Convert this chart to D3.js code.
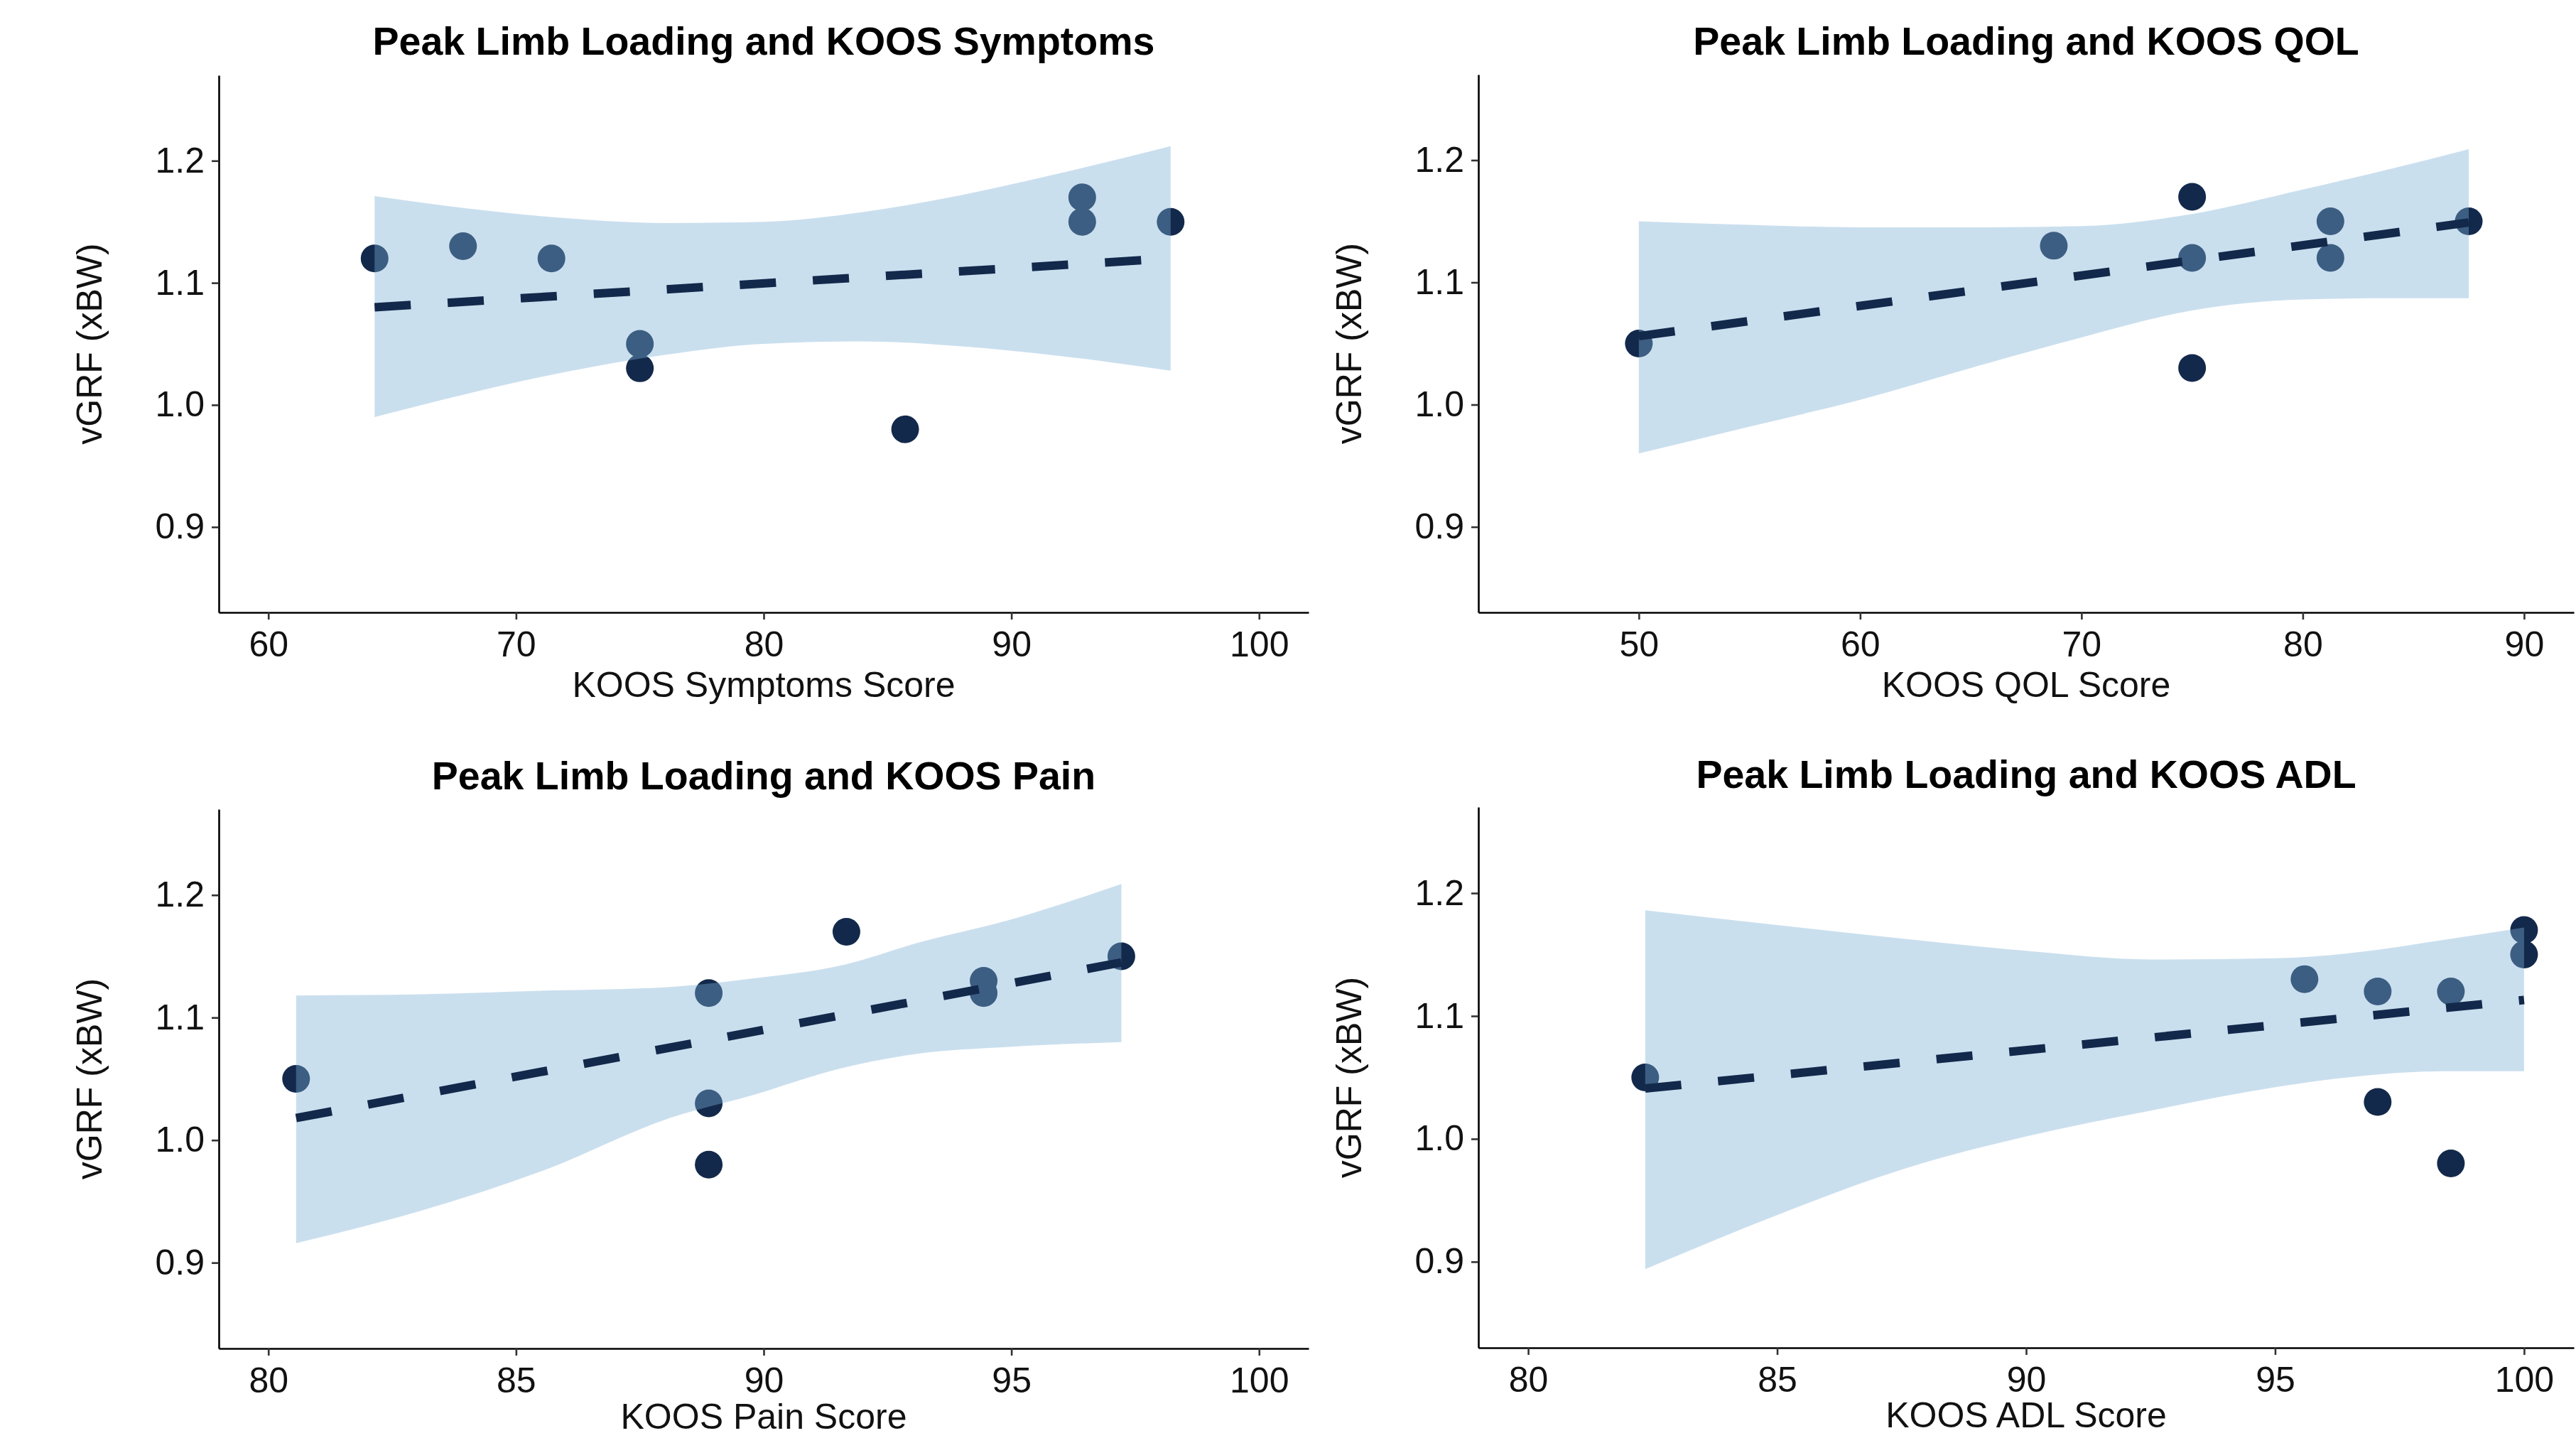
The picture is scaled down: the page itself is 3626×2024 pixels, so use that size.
<!DOCTYPE html>
<html>
<head>
<meta charset="utf-8">
<script src="https://cdn.jsdelivr.net/npm/d3@7"></script>
<style>
  body { margin: 0; background: #fff; }
  svg { display: block; }
  text { font-family: "Liberation Sans", Arial, sans-serif; }
</style>
</head>
<body>
<svg width="3626" height="2024"></svg>
<script>
// shared y axis
var yTicks = [0.9, 1.0, 1.1, 1.2];
var yLimits = [0.83, 1.27];

// KOOS Symptoms
var symptomsScore = [64.29, 67.86, 71.43, 75, 75, 85.71, 92.86, 92.86, 96.43];
var symptomsVgrf  = [1.12, 1.13, 1.12, 1.05, 1.03, 0.98, 1.17, 1.15, 1.15];
var symptomsTicks = [60, 70, 80, 90, 100];
var symptomsBandX     = [64.29, 68, 72, 76, 80, 84, 88, 92, 96.43];
var symptomsBandUpper = [1.171, 1.161, 1.153, 1.149, 1.150, 1.158, 1.172, 1.190, 1.212];
var symptomsBandLower = [0.990, 1.009, 1.027, 1.041, 1.050, 1.052, 1.048, 1.040, 1.028];
var symptomsFitX = [64.29, 96.43];
var symptomsFitY = [1.080, 1.120];

// KOOS QOL
var qolScore = [50, 68.75, 75, 75, 75, 81.25, 81.25, 87.5];
var qolVgrf  = [1.05, 1.13, 1.17, 1.12, 1.03, 1.15, 1.12, 1.15];
var qolTicks = [50, 60, 70, 80, 90];
var qolBandX     = [50, 55, 60, 65, 70, 75, 80, 84, 87.5];
var qolBandUpper = [1.150, 1.147, 1.145, 1.145, 1.146, 1.156, 1.176, 1.193, 1.209];
var qolBandLower = [0.960, 0.982, 1.004, 1.030, 1.055, 1.077, 1.086, 1.087, 1.087];
var qolFitX = [50, 87.5];
var qolFitY = [1.056, 1.149];

// KOOS Pain
var painScore = [80.56, 88.89, 88.89, 88.89, 91.67, 94.44, 94.44, 97.22];
var painVgrf  = [1.05, 1.12, 1.03, 0.98, 1.17, 1.13, 1.12, 1.15];
var painTicks = [80, 85, 90, 95, 100];
var painBandX     = [80.56, 83.05, 85.6, 88.1, 89.8, 91.5, 93.2, 94.9, 97.22];
var painBandUpper = [1.118, 1.119, 1.122, 1.125, 1.132, 1.142, 1.162, 1.179, 1.209];
var painBandLower = [0.916, 0.942, 0.976, 1.018, 1.037, 1.058, 1.071, 1.076, 1.080];
var painFitX = [80.56, 97.22];
var painFitY = [1.018, 1.145];

// KOOS ADL
var adlScore = [82.35, 95.59, 97.06, 97.06, 98.53, 98.53, 100, 100];
var adlVgrf  = [1.05, 1.13, 1.12, 1.03, 1.12, 0.98, 1.17, 1.15];
var adlTicks = [80, 85, 90, 95, 100];
var adlBandX     = [82.35, 85, 87.5, 90, 92.5, 95, 96.7, 98.4, 100];
var adlBandUpper = [1.186, 1.174, 1.163, 1.153, 1.146, 1.147, 1.152, 1.162, 1.172];
var adlBandLower = [0.894, 0.938, 0.975, 1.002, 1.023, 1.042, 1.051, 1.055, 1.055];
var adlFitX = [82.35, 100];
var adlFitY = [1.041, 1.113];

var navy = "#13294B";
var ribbonFill = "#7BAFD4";

var panels = [
  { title: "Peak Limb Loading and KOOS Symptoms", xTitle: "KOOS Symptoms Score",
    xLimits: [58, 102], ticks: symptomsTicks, score: symptomsScore, vgrf: symptomsVgrf,
    bandX: symptomsBandX, upper: symptomsBandUpper, lower: symptomsBandLower,
    fitX: symptomsFitX, fitY: symptomsFitY,
    left: 308, right: 1842, top: 106, bottom: 862, titleY: 77, xTitleGap: 119 },
  { title: "Peak Limb Loading and KOOS QOL", xTitle: "KOOS QOL Score",
    xLimits: [42.75, 92.25], ticks: qolTicks, score: qolScore, vgrf: qolVgrf,
    bandX: qolBandX, upper: qolBandUpper, lower: qolBandLower,
    fitX: qolFitX, fitY: qolFitY,
    left: 2081, right: 3623, top: 105, bottom: 862, titleY: 77, xTitleGap: 119 },
  { title: "Peak Limb Loading and KOOS Pain", xTitle: "KOOS Pain Score",
    xLimits: [79, 101], ticks: painTicks, score: painScore, vgrf: painVgrf,
    bandX: painBandX, upper: painBandUpper, lower: painBandLower,
    fitX: painFitX, fitY: painFitY,
    left: 308, right: 1842, top: 1139, bottom: 1898, titleY: 1111, xTitleGap: 113 },
  { title: "Peak Limb Loading and KOOS ADL", xTitle: "KOOS ADL Score",
    xLimits: [79, 101], ticks: adlTicks, score: adlScore, vgrf: adlVgrf,
    bandX: adlBandX, upper: adlBandUpper, lower: adlBandLower,
    fitX: adlFitX, fitY: adlFitY,
    left: 2081, right: 3623, top: 1136, bottom: 1897, titleY: 1109, xTitleGap: 112 }
];

var svg = d3.select("svg");

panels.forEach(function(p) {
  var x = d3.scaleLinear().domain(p.xLimits).range([p.left, p.right]);
  var y = d3.scaleLinear().domain(yLimits).range([p.bottom, p.top]);
  var g = svg.append("g");

  // points first, ribbon drawn over them (as in the original)
  g.selectAll("circle")
    .data(d3.range(p.score.length))
    .enter().append("circle")
    .attr("cx", function(i) { return x(p.score[i]); })
    .attr("cy", function(i) { return y(p.vgrf[i]); })
    .attr("r", 19.5)
    .attr("fill", navy);

  var area = d3.area()
    .x(function(i) { return x(p.bandX[i]); })
    .y0(function(i) { return y(p.lower[i]); })
    .y1(function(i) { return y(p.upper[i]); })
    .curve(d3.curveMonotoneX);

  g.append("path")
    .attr("d", area(d3.range(p.bandX.length)))
    .attr("fill", ribbonFill)
    .attr("fill-opacity", 0.4);

  var line = d3.line()
    .x(function(i) { return x(p.fitX[i]); })
    .y(function(i) { return y(p.fitY[i]); });

  g.append("path")
    .attr("d", line(d3.range(p.fitX.length)))
    .attr("fill", "none")
    .attr("stroke", navy)
    .attr("stroke-width", 12)
    .attr("stroke-dasharray", "51,52");

  // axes
  var yAxis = g.append("g")
    .attr("transform", "translate(" + p.left + ",0)")
    .call(d3.axisLeft(y).tickValues(yTicks).tickFormat(d3.format(".1f"))
      .tickSize(10).tickSizeOuter(0).tickPadding(10));

  var xAxis = g.append("g")
    .attr("transform", "translate(0," + p.bottom + ")")
    .call(d3.axisBottom(x).tickValues(p.ticks).tickFormat(d3.format("d"))
      .tickSize(10).tickSizeOuter(0).tickPadding(16));

  [yAxis, xAxis].forEach(function(a) {
    a.select(".domain").attr("stroke", "#000").attr("stroke-width", 2.6);
    a.selectAll(".tick line").attr("stroke", "#333").attr("stroke-width", 2.6);
    a.selectAll(".tick text")
      .attr("fill", "#111")
      .style("font-size", "50px")
      .style("font-family", "'Liberation Sans', Arial, sans-serif");
  });

  // titles
  g.append("text")
    .attr("x", (p.left + p.right) / 2)
    .attr("y", p.titleY)
    .attr("text-anchor", "middle")
    .style("font-size", "55.5px")
    .style("font-weight", "bold")
    .attr("fill", "#000")
    .text(p.title);

  g.append("text")
    .attr("x", (p.left + p.right) / 2)
    .attr("y", p.bottom + p.xTitleGap)
    .attr("text-anchor", "middle")
    .style("font-size", "50px")
    .attr("fill", "#111")
    .text(p.xTitle);

  g.append("text")
    .attr("transform", "rotate(-90)")
    .attr("x", -(p.top + p.bottom) / 2)
    .attr("y", p.left - 165)
    .attr("text-anchor", "middle")
    .style("font-size", "50px")
    .attr("fill", "#111")
    .text("vGRF (xBW)");
});
</script>
</body>
</html>
